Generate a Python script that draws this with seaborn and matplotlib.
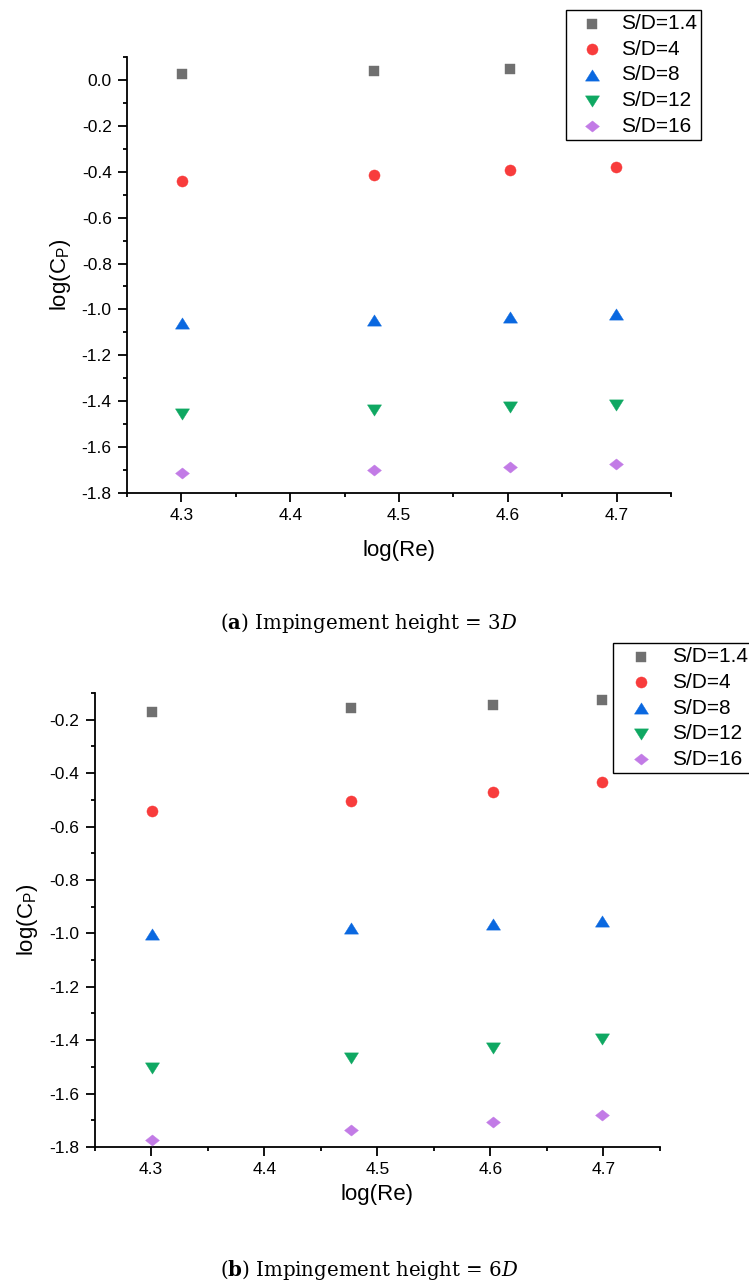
import numpy as np
import pandas as pd
import matplotlib
matplotlib.use("Agg")
import matplotlib.pyplot as plt
from matplotlib.path import Path
from matplotlib.markers import MarkerStyle
from matplotlib.ticker import MultipleLocator, FormatStrFormatter
import seaborn as sns

# ---- data -------------------------------------------------------------
log_re = [4.301, 4.477, 4.602, 4.699]
series_labels = ["S/D=1.4", "S/D=4", "S/D=8", "S/D=12", "S/D=16"]

# impingement height = 3D
cp_3d_sd14 = [0.026, 0.041, 0.048, 0.055]
cp_3d_sd4 = [-0.439, -0.413, -0.393, -0.378]
cp_3d_sd8 = [-1.061, -1.047, -1.032, -1.021]
cp_3d_sd12 = [-1.454, -1.439, -1.425, -1.416]
cp_3d_sd16 = [-1.711, -1.701, -1.688, -1.675]

# impingement height = 6D
cp_6d_sd14 = [-0.171, -0.155, -0.144, -0.125]
cp_6d_sd4 = [-0.542, -0.503, -0.469, -0.434]
cp_6d_sd8 = [-1.003, -0.981, -0.966, -0.954]
cp_6d_sd12 = [-1.503, -1.466, -1.430, -1.396]
cp_6d_sd16 = [-1.774, -1.737, -1.705, -1.679]

x_ticks = [4.3, 4.4, 4.5, 4.6, 4.7]
y_ticks_3d = [0.0, -0.2, -0.4, -0.6, -0.8, -1.0, -1.2, -1.4, -1.6, -1.8]
y_ticks_6d = [-0.2, -0.4, -0.6, -0.8, -1.0, -1.2, -1.4, -1.6, -1.8]

# ---- styling ----------------------------------------------------------
sns.set_theme(style="ticks")
plt.rcParams["font.family"] = ["Liberation Sans", "DejaVu Sans"]
plt.rcParams["axes.unicode_minus"] = False
plt.rcParams["text.color"] = "black"
plt.rcParams["axes.labelcolor"] = "black"

colors = ["#707070", "#F83C3C", "#0A68E0", "#0FA862", "#C27BE6"]

tri_up = Path([(-1, -0.8), (1, -0.8), (0, 0.8), (-1, -0.8)], closed=True)
tri_dn = Path([(-1, 0.8), (1, 0.8), (0, -0.8), (-1, 0.8)], closed=True)
diamond = Path([(-1, 0), (0, 0.8), (1, 0), (0, -0.8), (-1, 0)], closed=True)
markers = [MarkerStyle("s"), MarkerStyle("o"), MarkerStyle(tri_up),
           MarkerStyle(tri_dn), MarkerStyle(diamond)]
sizes = [50, 64, 102, 102, 100]

W, H = 749, 1288
fig = plt.figure(figsize=(W / 100, H / 100), dpi=100)


def px_axes(left, top, right, bottom):
    return fig.add_axes([left / W, 1 - bottom / H, (right - left) / W, (bottom - top) / H])


def draw_panel(ax, values, ylim, yticks, legend_xy, ylabelpad, xlabelpad, handlelen):
    for vals, lab, col, mk, sz in zip(values, series_labels, colors, markers, sizes):
        df = pd.DataFrame({"logRe": log_re, "logCp": vals})
        sns.scatterplot(data=df, x="logRe", y="logCp", ax=ax, marker=mk, s=sz,
                        color=col, edgecolor=col, linewidth=0.3, label=lab,
                        legend=True, zorder=3)
    ax.set_xlim(4.25, 4.75)
    ax.set_ylim(*ylim)
    ax.set_xticks(x_ticks)
    ax.set_yticks(yticks)
    ax.xaxis.set_minor_locator(MultipleLocator(0.05))
    ax.yaxis.set_minor_locator(MultipleLocator(0.1))
    ax.xaxis.set_major_formatter(FormatStrFormatter("%.1f"))
    ax.yaxis.set_major_formatter(FormatStrFormatter("%.1f"))
    sns.despine(ax=ax)
    for side in ("left", "bottom"):
        ax.spines[side].set_linewidth(1.3)
        ax.spines[side].set_color("black")
    ax.tick_params(which="major", direction="out", length=6.5, width=1.3,
                   colors="black", labelsize=12.5, pad=4.5)
    ax.tick_params(which="minor", direction="out", length=3.2, width=1.3,
                   colors="black")
    ax.set_xlabel("log(Re)", fontsize=16, labelpad=xlabelpad, color="black")
    ax.set_ylabel(r"log(C$_\mathregular{P}$)", fontsize=16, labelpad=ylabelpad,
                  color="black")

    handles, labels = ax.get_legend_handles_labels()
    leg = ax.legend(handles, labels, loc="upper left",
                    bbox_to_anchor=(legend_xy[0] / W, 1 - legend_xy[1] / H),
                    bbox_transform=fig.transFigure, borderaxespad=0,
                    fontsize=15, frameon=True, fancybox=False, framealpha=1,
                    edgecolor="black", borderpad=0.2, handlelength=handlelen,
                    handletextpad=0.34, labelspacing=0.32, scatterpoints=1)
    leg.get_frame().set_linewidth(1.0)
    for t in leg.get_texts():
        t.set_color("black")
    leg.set_zorder(10)


ax_a = px_axes(127, 57, 671, 493)
draw_panel(ax_a, [cp_3d_sd14, cp_3d_sd4, cp_3d_sd8, cp_3d_sd12, cp_3d_sd16],
           (-1.8, 0.1), y_ticks_3d, (566, 10), 6.5, 12, 2.1)

ax_b = px_axes(94.6, 693, 660, 1147)
draw_panel(ax_b, [cp_6d_sd14, cp_6d_sd4, cp_6d_sd8, cp_6d_sd12, cp_6d_sd16],
           (-1.8, -0.1), y_ticks_6d, (613, 643), 6.5, 4.5, 2.3)

# panel captions
cap_kw = dict(ha="center", va="baseline", fontsize=14.2, family="DejaVu Serif",
              math_fontfamily="dejavuserif", color="black")
fig.text(368.5 / W, 1 - 629 / H, r"($\mathbf{a}$) Impingement height = 3$\mathit{D}$", **cap_kw)
fig.text(369.5 / W, 1 - 1276 / H, r"($\mathbf{b}$) Impingement height = 6$\mathit{D}$", **cap_kw)

fig.savefig("out.png", dpi=100, facecolor="white")
